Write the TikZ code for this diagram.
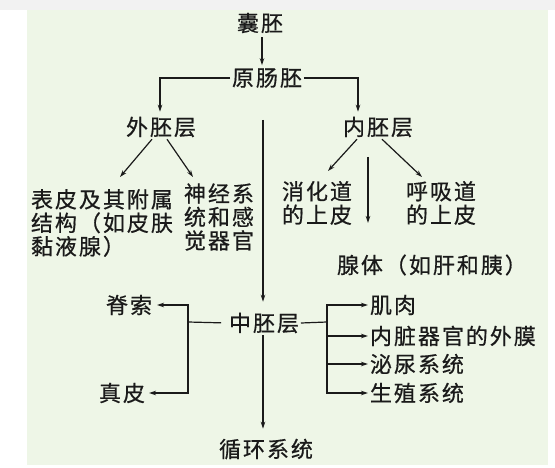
\documentclass[tikz,border=0pt]{standalone}
\usepackage{fontspec}
\setmainfont{Noto Sans CJK SC}[LetterSpace=9, FakeBold=0.6]
\usetikzlibrary{arrows.meta}
\definecolor{bggreen}{HTML}{EEF6E7}
\definecolor{topgray}{HTML}{F2F2F2}
\definecolor{ink}{HTML}{1A1A1A}
\begin{document}
\begin{tikzpicture}[x=1pt,y=-1pt,
  txt/.style={inner sep=2pt, outer sep=0pt, text=ink, font=\fontsize{22}{23.5}\selectfont},
  mtxt/.style={txt, align=left},
  arr/.style={draw=ink, line width=1.2pt, -{Stealth[length=7pt,width=4.5pt]}},
  ln/.style={draw=ink, line width=1.2pt}]
\useasboundingbox (0,0) rectangle (555,468);
\fill[white] (0,0) rectangle (555,468);
\fill[topgray] (0,0) rectangle (555,10);
\fill[bggreen] (27,10) rectangle (548,465);

\node[txt] (nangpei) at (260,23) {囊胚};
\node[txt] (yuan) at (267,78) {原肠胚};
\node[txt] (wai) at (161,127) {外胚层};
\node[txt] (nei) at (378,127) {内胚层};
\node[mtxt, anchor=west] (biaopi) at (29,223) {表皮及其附属\\结构（如皮肤\\黏液腺）};
\node[mtxt, anchor=west] (shenjing) at (182,217) {神经系\\统和感\\觉器官};
\node[mtxt, anchor=west] (xiaohua) at (280,203) {消化道\\的上皮};
\node[mtxt, anchor=west] (huxi) at (404,203) {呼吸道\\的上皮};
\node[txt, anchor=west] (xianti) at (335,265) {腺体（如肝和胰）};
\node[txt] (zhong) at (264,323) {中胚层};
\node[txt] (jisuo) at (129,305) {脊索};
\node[txt] (zhenpi) at (122,393) {真皮};
\node[txt, anchor=west] (jirou) at (368,305) {肌肉};
\node[txt, anchor=west] (neizang) at (368,336) {内脏器官的外膜};
\node[txt, anchor=west] (miniao) at (368,364) {泌尿系统};
\node[txt, anchor=west] (shengzhi) at (368,393) {生殖系统};
\node[txt] (xunhuan) at (266,449) {循环系统};

\coordinate (vtop) at (263,120);
\coordinate (wa1) at (120,177);
\coordinate (wa2) at (193,177);
\coordinate (na1) at (328,171);
\coordinate (na2) at (422,177);
\coordinate (nv1) at (368,157);
\coordinate (nv2) at (368,223);
\coordinate (jl) at (188,322);
\coordinate (jr) at (327,322);

\draw[arr, shorten <=2pt, shorten >=1pt] ([xshift=2pt]nangpei.south) -- ([xshift=-5pt]yuan.north);
\draw[arr, shorten >=3pt] (yuan.west) -| ([xshift=-1pt]wai.north);
\draw[arr, shorten >=3pt] (yuan.east) -| ([xshift=-20pt]nei.north);
\draw[arr, shorten >=9pt] (vtop) -- (vtop |- zhong.north);
\draw[arr] ([xshift=-9pt]wai.south) -- (wa1);
\draw[arr] ([xshift=6pt]wai.south) -- (wa2);
\draw[arr] ([xshift=-21pt]nei.south) -- (na1);
\draw[arr] ([xshift=4pt]nei.south) -- (na2);
\draw[arr] (nv1) -- (nv2);
\draw[ln, shorten <=6pt] (zhong.west) -- (jl);
\draw[arr, shorten >=3pt] (jl) |- (jisuo.east);
\draw[arr, shorten >=2pt] (jl) |- (zhenpi.east);
\draw[ln] (zhong.east) -- (jr);
\draw[arr] (jr) |- (jirou.west);
\draw[arr] (jr) |- (neizang.west);
\draw[arr] (jr) |- (miniao.west);
\draw[arr] (jr) |- (shengzhi.west);
\draw[arr, shorten >=8pt] (zhong.south -| vtop) -- (vtop |- xunhuan.north);
\end{tikzpicture}
\end{document}
